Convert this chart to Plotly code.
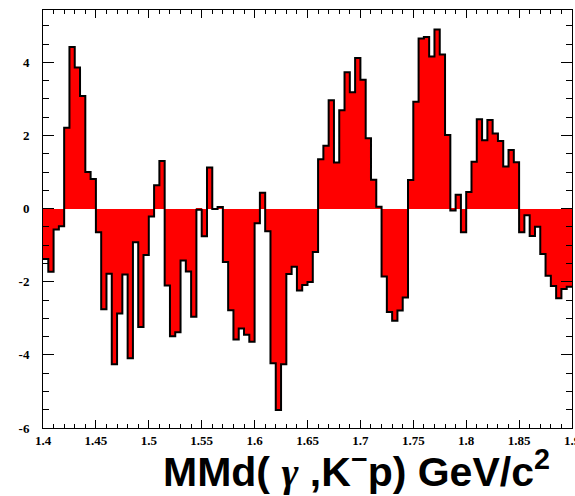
import numpy as np
import plotly.graph_objects as go

# Histogram definition
bin_start = 1.4
bin_width = 0.005
counts = [
    -1.38, -1.73, -0.57, -0.48, 2.21, 4.42, 3.86, 3.08, 1.00, 0.81,
    -0.65, -2.75, -1.78, -4.26, -2.87, -1.80, -4.09, -0.92, -3.24, -1.27,
    -0.22, 0.64, 1.30, -2.10, -3.49, -3.38, -1.42, -1.72, -2.96, -0.03,
    -0.76, 1.12, -0.01, 0.04, -1.46, -2.78, -3.58, -3.28, -3.45, -3.64,
    -0.40, 0.43, -0.62, -4.23, -5.51, -4.26, -1.79, -1.59, -2.24, -2.09,
    -2.01, -1.19, 1.35, 1.72, 2.96, 1.26, 2.69, 3.73, 3.18, 4.12,
    3.52, 1.92, 0.79, 0.05, -1.86, -2.83, -3.07, -2.79, -2.43, 0.78,
    2.92, 4.65, 4.69, 4.16, 4.90, 4.21, 2.01, -0.05, 0.38, -0.65,
    0.45, 1.28, 2.44, 1.87, 2.42, 2.05, 1.85, 1.15, 1.60, 1.27,
    -0.65, -0.18, -0.75, -0.50, -1.24, -1.84, -2.12, -2.45, -2.20, -2.14,
]

x_tick_vals = [1.4, 1.45, 1.5, 1.55, 1.6, 1.65, 1.7, 1.75, 1.8, 1.85, 1.9]
x_tick_text = ["1.4", "1.45", "1.5", "1.55", "1.6", "1.65", "1.7", "1.75", "1.8", "1.85", "1.9"]
y_tick_vals = [-6, -4, -2, 0, 2, 4]
y_tick_text = ["-6", "-4", "-2", "0", "2", "4"]
x_title = "MMd( <span style='font-family:Liberation Serif'><i>γ</i></span> ,K<sup>−</sup>p) GeV/c<sup>2</sup>"

x_range = [1.4, 1.9]
y_range = [-6, 5.43]

n = len(counts)
edges = bin_start + bin_width * np.arange(n + 1)
centers = edges[:-1] + bin_width / 2

fig = go.Figure()
fig.add_trace(go.Bar(
    x=centers, y=counts, width=bin_width,
    marker=dict(color="#ff0000", line=dict(width=0)),
    showlegend=False, hoverinfo="skip",
))
fig.add_trace(go.Scatter(
    x=edges, y=list(counts) + [counts[-1]],
    mode="lines", line=dict(color="black", width=2, shape="hv"),
    showlegend=False, hoverinfo="skip",
))
# empty trace to activate mirror axes (top / right ticks)
fig.add_trace(go.Scatter(x=[], y=[], xaxis="x2", yaxis="y2", showlegend=False, hoverinfo="skip"))

tick_font = dict(family="Liberation Serif", size=13, color="black", weight="bold")

fig.update_layout(
    width=575, height=496,
    margin=dict(l=43, r=3, t=10, b=68, autoexpand=False),
    paper_bgcolor="white", plot_bgcolor="white",
    bargap=0,
    xaxis=dict(
        range=x_range, showgrid=False, zeroline=False, automargin=False,
        showline=True, linecolor="black", linewidth=1,
        ticks="inside", ticklen=8, tickwidth=1, tickcolor="black",
        tickvals=x_tick_vals, ticktext=x_tick_text, tickfont=tick_font,
        ticklabeloverflow="allow",
        minor=dict(dtick=0.01, tick0=1.4, ticks="inside", ticklen=4, tickcolor="black", showgrid=False),
    ),
    xaxis2=dict(
        range=x_range, overlaying="x", side="top", showgrid=False, zeroline=False, automargin=False,
        showline=True, linecolor="black", linewidth=1,
        ticks="inside", ticklen=8, tickwidth=1, tickcolor="black",
        tickvals=x_tick_vals, showticklabels=False,
        minor=dict(dtick=0.01, tick0=1.4, ticks="inside", ticklen=4, tickcolor="black", showgrid=False),
    ),
    yaxis=dict(
        range=y_range, showgrid=False, zeroline=False, automargin=False,
        showline=True, linecolor="black", linewidth=1,
        ticks="inside", ticklen=11, tickwidth=1, tickcolor="black",
        tickvals=y_tick_vals, ticktext=y_tick_text, tickfont=tick_font,
        ticklabelstandoff=10,
        minor=dict(dtick=0.5, tick0=0, ticks="inside", ticklen=6, tickcolor="black", showgrid=False),
    ),
    yaxis2=dict(
        range=y_range, overlaying="y", side="right", showgrid=False, zeroline=False, automargin=False,
        showline=True, linecolor="black", linewidth=1,
        ticks="inside", ticklen=11, tickwidth=1, tickcolor="black",
        tickvals=y_tick_vals, showticklabels=False,
        minor=dict(dtick=0.5, tick0=0, ticks="inside", ticklen=6, tickcolor="black", showgrid=False),
    ),
    annotations=[dict(
        text=x_title, xref="paper", yref="paper", x=0.962, y=-0.097,
        xanchor="right", yanchor="middle", showarrow=False,
        font=dict(family="Liberation Sans", size=41, color="black", weight="bold"),
    )],
)

fig.write_html("out.html")
